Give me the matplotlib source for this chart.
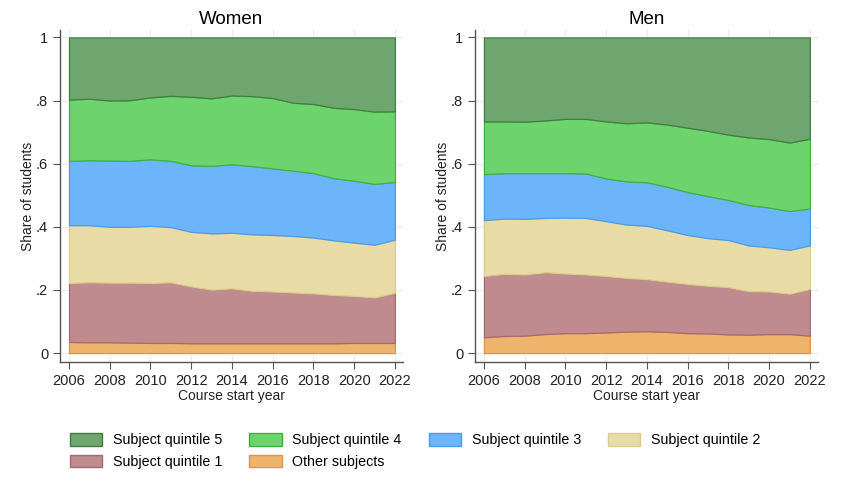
import matplotlib.pyplot as plt
import numpy as np
from matplotlib.patches import Patch

years = list(range(2006, 2023))

# shares by group, bottom layer first
women_other = [0.035, 0.034, 0.034, 0.033, 0.032, 0.032, 0.031, 0.031, 0.031, 0.031, 0.031, 0.031, 0.031, 0.031, 0.032, 0.032, 0.032]
women_q1 = [0.187, 0.190, 0.189, 0.190, 0.190, 0.192, 0.180, 0.170, 0.174, 0.166, 0.164, 0.161, 0.158, 0.153, 0.149, 0.144, 0.159]
women_q2 = [0.183, 0.181, 0.177, 0.177, 0.181, 0.175, 0.173, 0.178, 0.176, 0.179, 0.179, 0.179, 0.177, 0.173, 0.169, 0.167, 0.168]
women_q3 = [0.204, 0.206, 0.210, 0.209, 0.211, 0.210, 0.211, 0.214, 0.217, 0.216, 0.211, 0.207, 0.204, 0.197, 0.196, 0.193, 0.183]
women_q4 = [0.194, 0.195, 0.190, 0.192, 0.196, 0.206, 0.217, 0.214, 0.218, 0.222, 0.223, 0.215, 0.219, 0.223, 0.227, 0.229, 0.224]
women_q5 = [0.197, 0.194, 0.200, 0.199, 0.190, 0.185, 0.188, 0.193, 0.184, 0.186, 0.192, 0.207, 0.211, 0.223, 0.227, 0.235, 0.234]

men_other = [0.050, 0.054, 0.055, 0.060, 0.063, 0.063, 0.065, 0.068, 0.069, 0.067, 0.063, 0.062, 0.059, 0.058, 0.060, 0.060, 0.055]
men_q1 = [0.194, 0.197, 0.194, 0.196, 0.189, 0.186, 0.179, 0.170, 0.165, 0.159, 0.156, 0.151, 0.150, 0.138, 0.135, 0.128, 0.148]
men_q2 = [0.177, 0.175, 0.176, 0.172, 0.177, 0.179, 0.174, 0.169, 0.169, 0.163, 0.155, 0.151, 0.149, 0.145, 0.140, 0.139, 0.138]
men_q3 = [0.146, 0.144, 0.145, 0.142, 0.141, 0.141, 0.135, 0.137, 0.138, 0.138, 0.136, 0.133, 0.127, 0.128, 0.126, 0.123, 0.117]
men_q4 = [0.167, 0.164, 0.163, 0.167, 0.172, 0.173, 0.181, 0.184, 0.190, 0.197, 0.204, 0.207, 0.207, 0.214, 0.217, 0.217, 0.221]
men_q5 = [0.266, 0.266, 0.267, 0.263, 0.258, 0.258, 0.266, 0.272, 0.269, 0.276, 0.286, 0.296, 0.308, 0.317, 0.322, 0.333, 0.321]

labels = ["Other subjects", "Subject quintile 1", "Subject quintile 2",
          "Subject quintile 3", "Subject quintile 4", "Subject quintile 5"]
fills = ["#efb46c", "#c08b8e", "#e8dba6", "#6db5fb", "#6dd46d", "#6fa56f"]
edges = ["#e0944a", "#a66a6e", "#d9cb8e", "#4a9be8", "#3cb43c", "#3f7f3f"]

plt.rcParams["font.family"] = ["Liberation Sans", "DejaVu Sans"]

fig = plt.figure(figsize=(8.48, 5.01), dpi=100)
ax_w = fig.add_axes([0.0708, 0.2774, 0.4045, 0.663])
ax_m = fig.add_axes([0.5601, 0.2774, 0.4045, 0.663])

panels = [
    (ax_w, "Women", [women_other, women_q1, women_q2, women_q3, women_q4, women_q5]),
    (ax_m, "Men", [men_other, men_q1, men_q2, men_q3, men_q4, men_q5]),
]

for ax, title, series in panels:
    polys = ax.stackplot(years, *series, colors=fills, linewidth=0.9, zorder=2)
    for p, ec in zip(polys, edges):
        p.set_edgecolor(ec)
    ax.set_xlim(2005.56, 2022.4)
    ax.set_ylim(-0.0285, 1.024)
    ax.set_xticks(range(2006, 2023, 2))
    ax.set_yticks([0, 0.2, 0.4, 0.6, 0.8, 1])
    ax.set_yticklabels(["0", ".2", ".4", ".6", ".8", "1"])
    ax.grid(True, color="#ececec", linewidth=0.8, zorder=0)
    ax.set_axisbelow(True)
    for s in ["top", "right"]:
        ax.spines[s].set_visible(False)
    for s in ["left", "bottom"]:
        ax.spines[s].set_color("#555555")
        ax.spines[s].set_linewidth(1.0)
    ax.tick_params(labelsize=10.5, length=5, color="#555555", labelcolor="#222222")
    ax.set_title(title, fontsize=13.5, pad=4)
    ax.set_xlabel("Course start year", fontsize=10, labelpad=1, color="#222222")
    ax.set_ylabel("Share of students", fontsize=10, labelpad=1, color="#222222")

handles = [Patch(facecolor=f, edgecolor=e, label=l) for f, e, l in zip(fills, edges, labels)]
order = [5, 1, 4, 0, 3, 2]
fig.legend([handles[i] for i in order], [labels[i] for i in order],
           loc="upper left", bbox_to_anchor=(0.069, 0.158), ncol=4, frameon=False,
           prop={"size": 10.3},
           handlelength=2.25, handleheight=0.95, handletextpad=0.75,
           columnspacing=1.9, labelspacing=0.5, borderpad=0.3)

fig.savefig("out.png", dpi=100)
